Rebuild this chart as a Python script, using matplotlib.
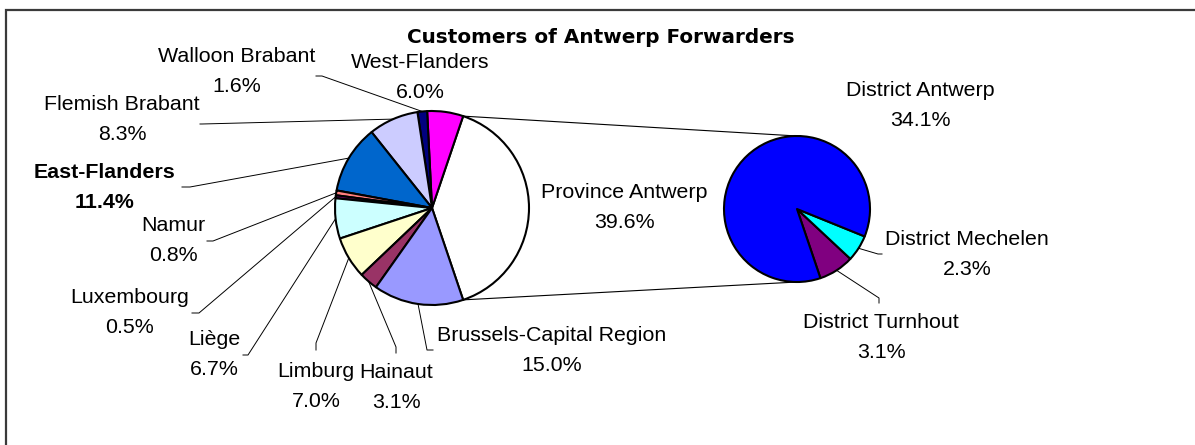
import numpy as np
import matplotlib
matplotlib.use("Agg")
import matplotlib.pyplot as plt

# Provinces / regions of Belgium (main pie), counter-clockwise from Province Antwerp
main_labels = ["Province Antwerp", "West-Flanders", "Walloon Brabant", "Flemish Brabant",
               "East-Flanders", "Namur", "Luxembourg", "Liège", "Limburg", "Hainaut",
               "Brussels-Capital Region"]
main_shares = [39.6, 6.0, 1.6, 8.3, 11.4, 0.8, 0.5, 6.7, 7.0, 3.1, 15.0]
main_colors = ["#FFFFFF", "#FF00FF", "#000080", "#CCCCFF", "#0066CC", "#FF8080",
               "#660066", "#CCFFFF", "#FFFFCC", "#993366", "#9999FF"]

# Breakdown of Province Antwerp by district (secondary pie)
district_labels = ["District Turnhout", "District Mechelen", "District Antwerp"]
district_shares = [3.1, 2.3, 34.1]
district_colors = ["#800080", "#00FFFF", "#0000FF"]

title = "Customers of Antwerp Forwarders"

W, H = 1195, 445
FONT = "Liberation Sans"
FS = 15.4


def Y(row):
    """Convert a pixel row measured from the top into data y."""
    return H - row


fig = plt.figure(figsize=(W / 100, H / 100), dpi=100)
ax = fig.add_axes([0, 0, 1, 1])

# the slice of "Province Antwerp" is centred on the 3 o'clock direction
start = -main_shares[0] * 360.0 / sum(main_shares) / 2.0
edge = dict(edgecolor="black", linewidth=1.5, joinstyle="round")

main_c, main_r = (432, Y(208)), 97
sec_c, sec_r = (797, Y(209)), 73

main_wedges, _ = ax.pie(main_shares, colors=main_colors, startangle=start,
                        counterclock=True, center=main_c, radius=main_r,
                        wedgeprops=edge)
sec_wedges, _ = ax.pie(district_shares, colors=district_colors, startangle=start,
                       counterclock=True, center=sec_c, radius=sec_r,
                       wedgeprops=edge)


def rim_point(w, ang=None):
    if ang is None:
        ang = 0.5 * (w.theta1 + w.theta2)
    a = np.deg2rad(ang)
    return w.center[0] + w.r * np.cos(a), w.center[1] + w.r * np.sin(a)


# connector lines between the split slice and the secondary pie
aw = main_wedges[0]
for ang, dy in ((aw.theta2, sec_r), (aw.theta1, -sec_r)):
    x0, y0 = rim_point(aw, ang)
    ax.plot([x0, sec_c[0]], [y0, sec_c[1] + dy], color="black", lw=0.8,
            zorder=0.5)

# label placement: centre x, baseline row of the name line
label_pos = {
    "Province Antwerp": (624, 198),
    "West-Flanders": (420, 68),
    "Walloon Brabant": (237, 62),
    "Flemish Brabant": (122, 110),
    "East-Flanders": (105, 178),
    "Namur": (173, 231),
    "Luxembourg": (130, 303),
    "Liège": (214, 345),
    "Limburg": (316, 377),
    "Hainaut": (396, 378),
    "Brussels-Capital Region": (552, 341),
    "District Antwerp": (920, 96),
    "District Mechelen": (967, 245),
    "District Turnhout": (881, 328),
}

# leader line elbows (pixel rows from top)
leaders = {
    "Walloon Brabant": [(322, 76), (316, 76)],
    "Flemish Brabant": [(202, 124), (200, 124)],
    "East-Flanders": [(190, 187), (182, 187)],
    "Namur": [(213, 241), (207, 241)],
    "Luxembourg": [(199, 313), (192, 313)],
    "Liège": [(248, 355), (243, 355)],
    "Limburg": [(316, 343), (316, 350)],
    "Hainaut": [(396, 347), (396, 353)],
    "Brussels-Capital Region": [(427, 350), (433, 350)],
    "District Mechelen": [(878, 254), (882, 254)],
    "District Turnhout": [(879, 298), (879, 303)],
}

groups = [(main_labels, main_shares, main_wedges),
          (district_labels, district_shares, sec_wedges)]
for names, shares, wedges in groups:
    for name, share, w in zip(names, shares, wedges):
        cx, base = label_pos[name]
        weight = "bold" if name == "East-Flanders" else "normal"
        ax.text(cx, Y(base), name, ha="center", va="baseline", fontsize=FS,
                family=FONT, fontweight=weight)
        ax.text(cx, Y(base + 30), f"{share:.1f}%", ha="center", va="baseline",
                fontsize=FS, family=FONT, fontweight=weight)
        if name in leaders:
            x0, y0 = rim_point(w)
            xs = [x0] + [p[0] for p in leaders[name]]
            ys = [y0] + [Y(p[1]) for p in leaders[name]]
            ax.plot(xs, ys, color="black", lw=0.7, zorder=0.5)

ax.text(601, Y(43), title, ha="center", va="baseline", fontsize=14.4,
        family="DejaVu Sans", fontweight="bold")

# chart-area frame (left and top edges)
ax.plot([6, 6, W + 5], [Y(H + 5), Y(10), Y(10)], color="#3a3a3a", lw=1.6,
        solid_joinstyle="miter", clip_on=False)

ax.set_xlim(0, W)
ax.set_ylim(0, H)
ax.set_aspect("equal")
ax.axis("off")

fig.savefig("out.png", dpi=100, facecolor="white")
